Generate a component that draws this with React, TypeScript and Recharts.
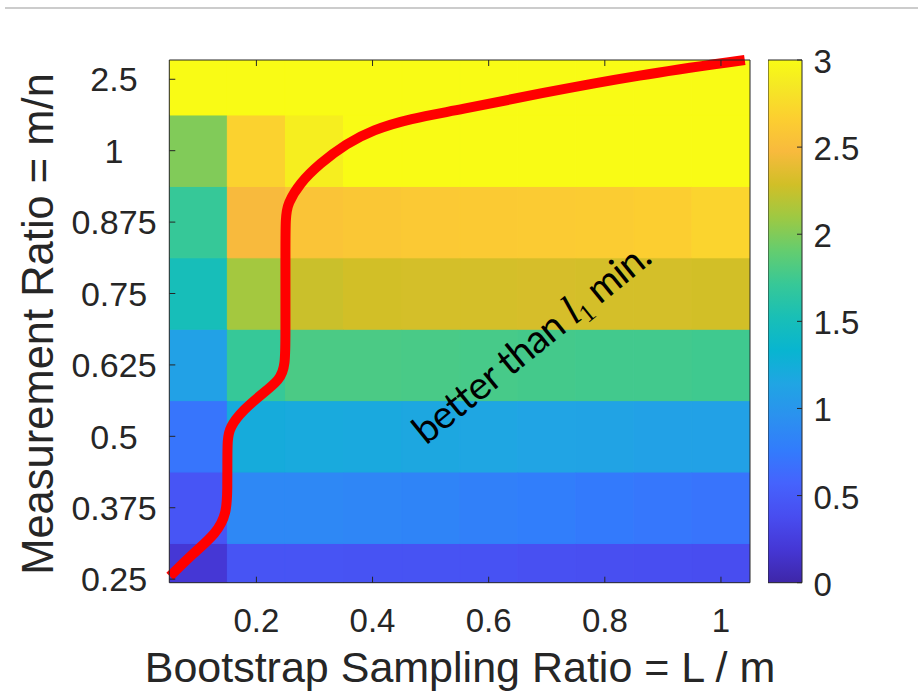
import React from "react";
import {
  ComposedChart,
  BarChart,
  Bar,
  XAxis,
  YAxis,
  Line,
  ReferenceArea,
  ReferenceDot,
  Label,
} from "recharts";

// heatmap grid: column centres (L / m) and row labels (m / n), bottom to top
const colCenters = [0.1, 0.2, 0.3, 0.4, 0.5, 0.6, 0.7, 0.8, 0.9, 1.0];
const rowLabels = ["0.25", "0.375", "0.5", "0.625", "0.75", "0.875", "1", "2.5"];
const xTicks = [0.2, 0.4, 0.6, 0.8, 1];
const yTicks = [0, 1, 2, 3, 4, 5, 6, 7];
const cbarTicks = [0, 0.5, 1, 1.5, 2, 2.5, 3];
const cbarRange = [{ name: "scale", top: 3 }];

// cell values per row, left to right
const row025 = [0.19, 0.44, 0.44, 0.43, 0.43, 0.42, 0.41, 0.4, 0.39, 0.38];
const row0375 = [0.45, 0.87, 0.87, 0.85, 0.83, 0.8, 0.78, 0.75, 0.72, 0.7];
const row05 = [0.71, 1.22, 1.2, 1.19, 1.17, 1.15, 1.13, 1.12, 1.1, 1.1];
const row0625 = [1.1, 1.71, 1.8, 1.8, 1.79, 1.78, 1.77, 1.76, 1.76, 1.75];
const row075 = [1.5, 2.12, 2.26, 2.29, 2.3, 2.3, 2.31, 2.3, 2.3, 2.29];
const row0875 = [1.71, 2.48, 2.57, 2.59, 2.61, 2.62, 2.63, 2.64, 2.66, 2.7];
const row1 = [2.0, 2.69, 2.9, 3, 3, 3, 3, 3, 3, 3];
const row25 = [3, 3, 3, 3, 3, 3, 3, 3, 3, 3];
const rows = [row025, row0375, row05, row0625, row075, row0875, row1, row25];

// red boundary ("better than l1 min." region), x = L/m, y = row index
const curveX = [0.051, 0.091, 0.131, 0.149, 0.15, 0.15, 0.15, 0.154, 0.177, 0.211, 0.24, 0.25, 0.25, 0.25, 0.25, 0.25, 0.254, 0.274, 0.309, 0.355, 0.4, 0.464, 0.549, 0.686, 0.858, 1.041];
const curveY = [0.04, 0.36, 0.64, 0.92, 1.29, 1.62, 1.95, 2.13, 2.37, 2.6, 2.79, 2.98, 3.5, 4.0, 4.5, 5.08, 5.26, 5.54, 5.82, 6.1, 6.29, 6.45, 6.57, 6.8, 7.06, 7.27];

const X_DOMAIN: [number, number] = [0.05, 1.05];
const Y_DOMAIN: [number, number] = [-0.05, 7.27];
const AXIS = "#262626";
const FONT = "'Liberation Sans', Arial, Helvetica, sans-serif";

// parula colormap, sampled every 4th entry of the 64-step table
const PARULA: [number, number, number][] = [
  [62, 38, 168], [69, 55, 213], [72, 77, 240], [69, 99, 253], [50, 124, 252],
  [43, 145, 239], [32, 165, 227], [8, 181, 208], [25, 191, 182], [55, 200, 151],
  [100, 205, 111], [157, 201, 67], [209, 191, 39], [248, 186, 61], [252, 207, 48],
  [245, 233, 36], [249, 251, 21],
];
const PARULA_POS = [0, 4, 8, 12, 16, 20, 24, 28, 32, 36, 40, 44, 48, 52, 56, 60, 63].map((i) => i / 63);

function parula(v: number, lo = 0, hi = 3) {
  const t = Math.min(1, Math.max(0, (v - lo) / (hi - lo)));
  let k = 0;
  while (k < PARULA_POS.length - 2 && t > PARULA_POS[k + 1]) k++;
  const f = (t - PARULA_POS[k]) / (PARULA_POS[k + 1] - PARULA_POS[k]);
  const a = PARULA[k];
  const b = PARULA[k + 1];
  const c = a.map((ch, i) => Math.round(ch + (b[i] - ch) * f));
  return `rgb(${c[0]},${c[1]},${c[2]})`;
}

const cells = rows.flatMap((vals, r) =>
  vals.map((v, c) => ({
    x1: Math.max(colCenters[c] - 0.05, X_DOMAIN[0]),
    x2: Math.min(colCenters[c] + 0.05, X_DOMAIN[1]),
    y1: Math.max(r - 0.5, Y_DOMAIN[0]),
    y2: Math.min(r + 0.5, Y_DOMAIN[1]),
    color: parula(v),
    key: `${r}-${c}`,
  }))
);

const curve = curveX.map((x, i) => ({ x, y: curveY[i] }));

const noTick = () => <g />;

const leftTick = (p: any) => (
  <text x={p.x} y={p.y + 12.2} textAnchor="middle" fontSize={34} fontFamily={FONT} fill={AXIS}>
    {rowLabels[p.payload.value]}
  </text>
);

const bottomTick = (p: any) => (
  <text x={p.x} y={p.y + 23.5} textAnchor="middle" fontSize={33} fontFamily={FONT} fill={AXIS}>
    {String(p.payload.value)}
  </text>
);

const cbarTick = (p: any) => (
  <text x={p.x} y={p.y + 13} textAnchor="start" fontSize={33} fontFamily={FONT} fill={AXIS}>
    {String(p.payload.value)}
  </text>
);

const note = (p: any) => (
  <text
    x={p.cx}
    y={p.cy}
    transform={`rotate(-39 ${p.cx} ${p.cy})`}
    textAnchor="middle"
    fontSize={39}
    letterSpacing={-0.8}
    fontFamily="Lato, 'Open Sans', sans-serif"
    fill="#000"
  >
    better than <tspan fontFamily="'Liberation Serif', serif" fontStyle="italic" fontSize={42}>l</tspan>
    <tspan fontFamily="'Liberation Serif', serif" fontSize={26} dy={7}>1</tspan>
    <tspan dy={-7}> min.</tspan>
  </text>
);

export default function App() {
  return (
    <div style={{ position: "absolute", left: 0, top: 0, width: 918, height: 693, background: "#fff" }}>
      <div style={{ position: "absolute", left: 5, top: 7, width: 913, height: 2, background: "#cccccc" }} />

      <div style={{ position: "absolute", left: 0, top: 0 }}>
        <ComposedChart width={918} height={693} data={curve} margin={{ top: 0, right: 0, bottom: 0, left: 0 }}>
          {cells.map((c) => (
            <ReferenceArea
              key={c.key}
              x1={c.x1}
              x2={c.x2}
              y1={c.y1}
              y2={c.y2}
              fill={c.color}
              fillOpacity={1}
              stroke={c.color}
              strokeWidth={1}
              ifOverflow="hidden"
            />
          ))}
          <Line
            type="basis"
            dataKey="y"
            stroke="#ff0000"
            strokeWidth={10}
            dot={false}
            activeDot={false}
            isAnimationActive={false}
          />
          <ReferenceDot x={0.688} y={3.16} r={0} shape={note} ifOverflow="visible" />
          <XAxis
            type="number"
            dataKey="x"
            domain={X_DOMAIN}
            ticks={xTicks}
            height={110.3}
            tickSize={-6}
            tickMargin={31.3}
            tick={bottomTick}
            axisLine={{ stroke: AXIS }}
            tickLine={{ stroke: AXIS }}
          >
            <Label
              content={() => (
                <text x={460} y={682} textAnchor="middle" fontSize={43} fontFamily={FONT} fill={AXIS}>
                  Bootstrap Sampling Ratio = L / m
                </text>
              )}
            />
          </XAxis>
          <XAxis
            xAxisId="top"
            orientation="top"
            type="number"
            dataKey="x"
            domain={X_DOMAIN}
            ticks={xTicks}
            height={60}
            tickSize={-6}
            tick={noTick}
            axisLine={{ stroke: AXIS }}
            tickLine={{ stroke: AXIS }}
          />
          <YAxis
            type="number"
            domain={Y_DOMAIN}
            ticks={yTicks}
            width={169.3}
            tickSize={-6}
            tickMargin={61.3}
            tick={leftTick}
            axisLine={{ stroke: AXIS }}
            tickLine={{ stroke: AXIS }}
          >
            <Label
              content={() => (
                <text
                  x={53.3}
                  y={324}
                  transform="rotate(-90 53.3 324)"
                  textAnchor="middle"
                  fontSize={43.5}
                  fontFamily={FONT}
                  fill={AXIS}
                >
                  Measurement Ratio = m/n
                </text>
              )}
            />
          </YAxis>
          <YAxis
            yAxisId="right"
            orientation="right"
            type="number"
            domain={Y_DOMAIN}
            ticks={yTicks}
            width={168}
            tickSize={-6}
            tick={noTick}
            axisLine={{ stroke: AXIS }}
            tickLine={{ stroke: AXIS }}
          />
        </ComposedChart>
      </div>

      <div style={{ position: "absolute", left: 768, top: 0 }}>
        <BarChart
          width={150}
          height={693}
          data={cbarRange}
          barCategoryGap={0}
          margin={{ top: 60, right: 0, bottom: 110.3, left: 0 }}
        >
          <defs>
            <linearGradient id="parulaGrad" x1="0" y1="1" x2="0" y2="0">
              {PARULA.map((c, i) => (
                <stop key={i} offset={PARULA_POS[i]} stopColor={`rgb(${c[0]},${c[1]},${c[2]})`} />
              ))}
            </linearGradient>
          </defs>
          <XAxis dataKey="name" type="category" hide />
          <YAxis
            type="number"
            orientation="right"
            domain={[0, 3]}
            ticks={cbarTicks}
            width={116}
            tickSize={-5}
            tickMargin={16.5}
            tick={cbarTick}
            axisLine={false}
            tickLine={{ stroke: AXIS }}
          />
          <Bar
            dataKey="top"
            fill="url(#parulaGrad)"
            stroke={AXIS}
            strokeWidth={1}
            isAnimationActive={false}
          />
        </BarChart>
      </div>
    </div>
  );
}
